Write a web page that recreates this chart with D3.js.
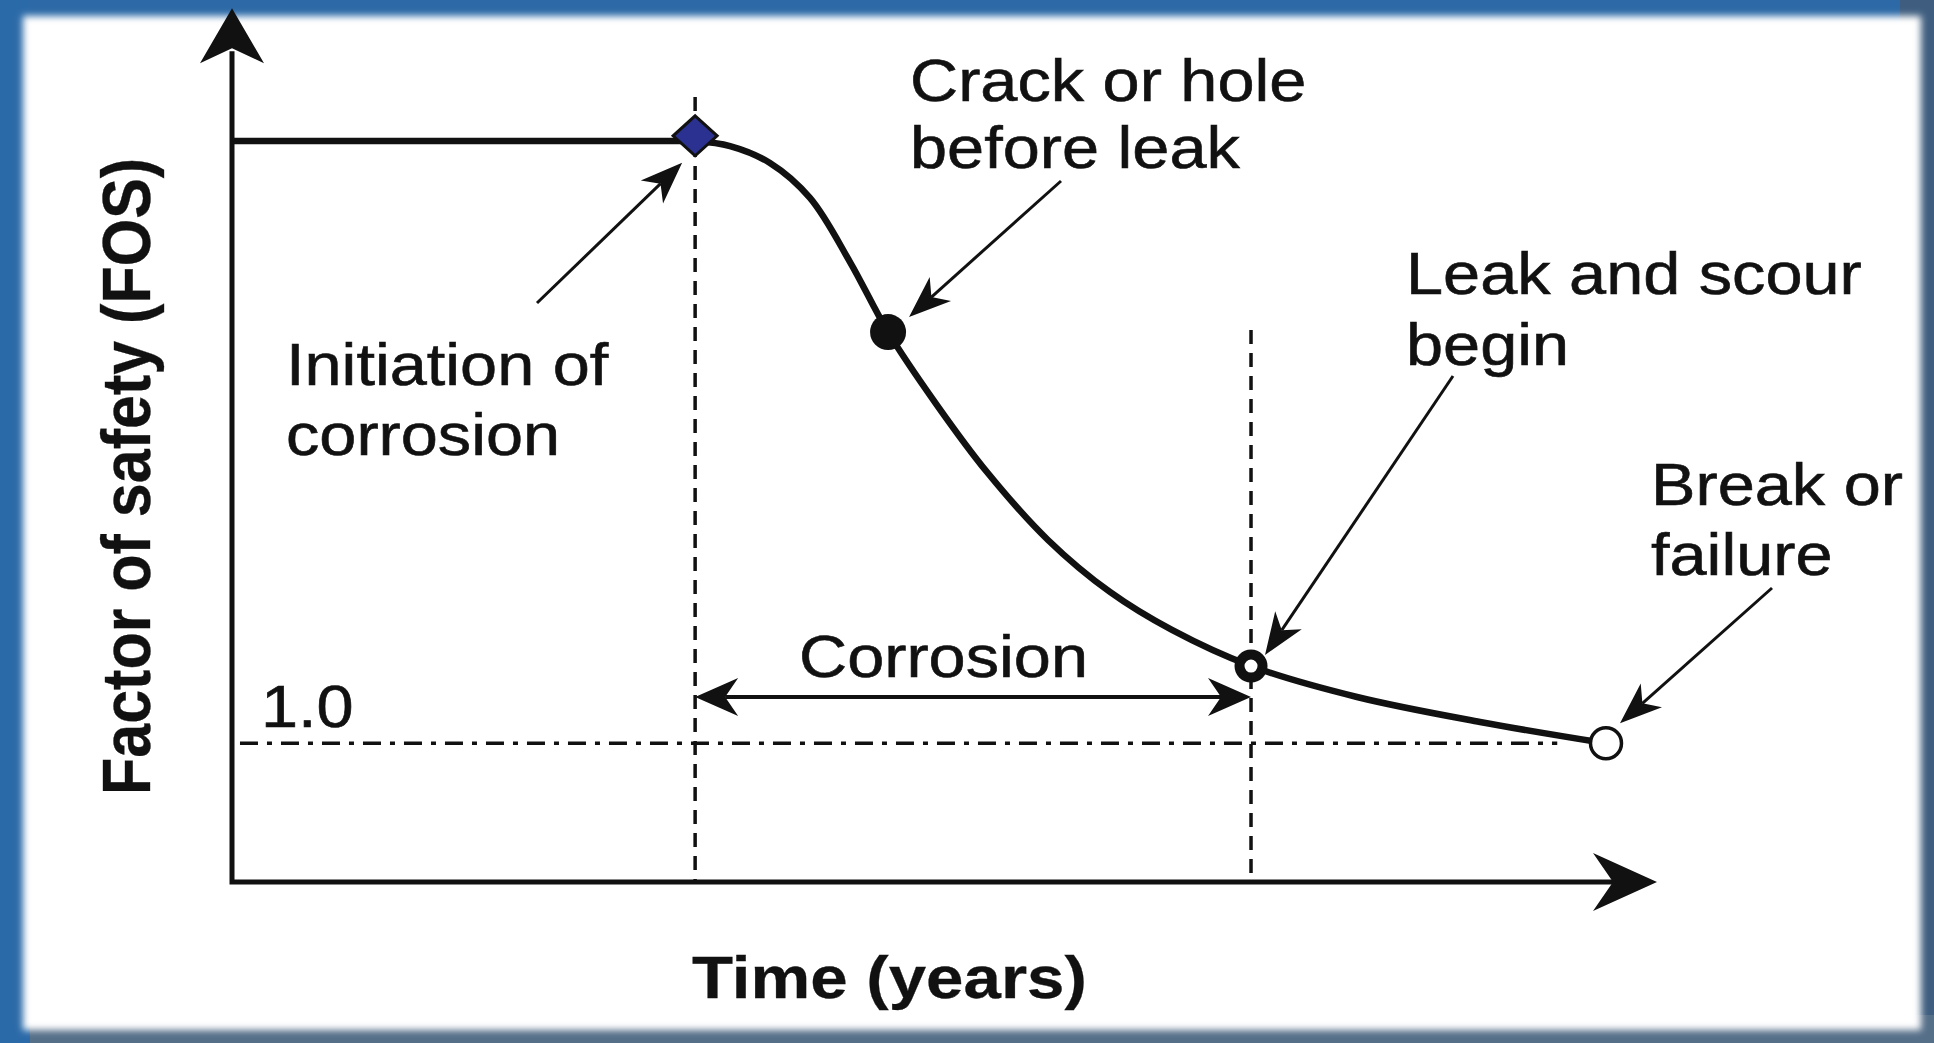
<!DOCTYPE html>
<html>
<head>
<meta charset="utf-8">
<script src="https://cdn.jsdelivr.net/npm/d3@7"></script>
<style>
  html, body { margin: 0; padding: 0; background: #fff; }
  svg { display: block; }
  text { font-family: "Liberation Sans", Arial, Helvetica, sans-serif; fill: #111; }
</style>
</head>
<body>
<svg id="chart" width="1934" height="1043"></svg>
<script>
// ---------------- DATA ----------------
const timeValues = [0, 3.25, 3.495, 3.775, 4.056, 4.337, 4.604, 4.947, 5.298, 5.726, 6.161, 6.596, 7.151, 7.895, 8.758, 9.642];
const fosValues  = [5.342, 5.342, 5.306, 5.184, 4.932, 4.470, 3.965, 3.439, 2.956, 2.466, 2.091, 1.817, 1.557, 1.334, 1.154, 1.00];

const eventNames = ["Initiation of corrosion", "Crack or hole before leak", "Leak and scour begin", "Break or failure"];
const eventTimes = [3.25, 4.604, 7.151, 9.642];
const eventFos   = [5.38, 3.965, 1.557, 1.00];

const eventLabels = [
  ["Initiation of", "corrosion"],
  ["Crack or hole", "before leak"],
  ["Leak and scour", "begin"],
  ["Break or", "failure"]
];
const yTickValues = [1.0];
const yTickLabels = ["1.0"];
const corrosionLabel = "Corrosion";
const xTitle = "Time (years)";
const yTitle = "Factor of safety (FOS)";

// ---------------- LAYOUT ----------------
const W = 1934, H = 1043;
const svg = d3.select("#chart");
const defs = svg.append("defs");

// frame
svg.append("rect").attr("x", 0).attr("y", 0).attr("width", W).attr("height", H).attr("fill", "#2c69a6");
svg.append("rect").attr("x", 1900).attr("y", 0).attr("width", 34).attr("height", H).attr("fill", "#3f5e7f");
svg.append("rect").attr("x", 0).attr("y", 1015).attr("width", W).attr("height", 28).attr("fill", "#566f89");
svg.append("rect").attr("x", 0).attr("y", 0).attr("width", 30).attr("height", H).attr("fill", "#2b6aa8");
const blur = defs.append("filter").attr("id", "soft").attr("x", "-5%").attr("y", "-5%").attr("width", "110%").attr("height", "110%");
blur.append("feGaussianBlur").attr("stdDeviation", 3.5);
svg.append("rect").attr("x", 23).attr("y", 16).attr("width", 1921 - 23).attr("height", 1030 - 16)
  .attr("fill", "#ffffff").attr("filter", "url(#soft)");

const x = d3.scaleLinear().domain([0, 10]).range([232, 1657]);
const y = d3.scaleLinear().domain([0, 6.3]).range([882, 8.2]);

const SX = 1.13; // horizontal stretch of the original artwork
function addText(px, py, str, size, weight, rot) {
  return svg.append("text")
    .attr("transform", `translate(${px},${py}) scale(${SX},1)` + (rot ? ` rotate(${rot})` : ""))
    .attr("font-size", size)
    .attr("font-weight", weight || "normal")
    .attr("stroke", "#111").attr("stroke-width", weight === "bold" ? 0.3 : 0.6)
    .text(str);
}

function arrowHead(tx, ty, ang, len, half, notch) {
  const c = Math.cos(ang), s = Math.sin(ang);
  const pt = (a, b) => [tx - a * c + b * s, ty - a * s - b * c];
  const p1 = pt(len, half), p2 = pt(notch, 0), p3 = pt(len, -half);
  return `M${tx},${ty}L${p1[0]},${p1[1]}L${p2[0]},${p2[1]}L${p3[0]},${p3[1]}Z`;
}
function arrow(x1, y1, x2, y2, width, len, half, notch) {
  const ang = Math.atan2(y2 - y1, x2 - x1);
  const ex = x2 - notch * Math.cos(ang), ey = y2 - notch * Math.sin(ang);
  svg.append("line").attr("x1", x1).attr("y1", y1).attr("x2", ex).attr("y2", ey)
    .attr("stroke", "#111").attr("stroke-width", width);
  svg.append("path").attr("d", arrowHead(x2, y2, ang, len, half, notch)).attr("fill", "#111");
}

// reference lines
svg.append("line")
  .attr("x1", x(0.056)).attr("x2", x(9.30)).attr("y1", y(yTickValues[0])).attr("y2", y(yTickValues[0]))
  .attr("stroke", "#111").attr("stroke-width", 3.5).attr("stroke-dasharray", "18,9,5,9");
svg.append("line")
  .attr("x1", x(eventTimes[0])).attr("x2", x(eventTimes[0])).attr("y1", y(5.66)).attr("y2", y(0))
  .attr("stroke", "#111").attr("stroke-width", 3.5).attr("stroke-dasharray", "14,9");
svg.append("line")
  .attr("x1", x(eventTimes[2])).attr("x2", x(eventTimes[2])).attr("y1", y(3.98)).attr("y2", y(0))
  .attr("stroke", "#111").attr("stroke-width", 3.5).attr("stroke-dasharray", "14,9");

// axes
svg.append("path").attr("d", `M${x(0)},${y(5.99)}L${x(0)},${y(0)}L${x(9.7)},${y(0)}`)
  .attr("fill", "none").attr("stroke", "#111").attr("stroke-width", 5).attr("stroke-linejoin", "miter");
svg.append("path").attr("d", arrowHead(x(0), y(6.3), -Math.PI / 2, 55, 32, 40)).attr("fill", "#111");
svg.append("path").attr("d", arrowHead(x(10), y(0), 0, 64, 29, 44)).attr("fill", "#111");

// curve: straight plateau, then smooth decline
const pts = timeValues.map((t, i) => [t, fosValues[i]]);
const flat = d3.line().x(d => x(d[0])).y(d => y(d[1]));
const smooth = d3.line().x(d => x(d[0])).y(d => y(d[1])).curve(d3.curveCatmullRom.alpha(0.5));
svg.append("path").attr("d", flat(pts.slice(0, 2))).attr("fill", "none")
  .attr("stroke", "#111").attr("stroke-width", 6.5).attr("stroke-linecap", "butt");
svg.append("path").attr("d", smooth(pts.slice(1))).attr("fill", "none")
  .attr("stroke", "#111").attr("stroke-width", 6.5).attr("stroke-linecap", "round");

// corrosion double arrow
const cy = y(1.334);
const cx1 = x(eventTimes[0]), cx2 = x(eventTimes[2]);
svg.append("line").attr("x1", cx1 + 30).attr("x2", cx2 - 30).attr("y1", cy).attr("y2", cy)
  .attr("stroke", "#111").attr("stroke-width", 4);
svg.append("path").attr("d", arrowHead(cx1, cy, Math.PI, 43, 19, 30)).attr("fill", "#111");
svg.append("path").attr("d", arrowHead(cx2, cy, 0, 43, 19, 30)).attr("fill", "#111");

// markers
const dx = x(eventTimes[0]), dy = y(eventFos[0]);
svg.append("path").attr("d", `M${dx},${dy - 20}L${dx + 22},${dy}L${dx},${dy + 20}L${dx - 22},${dy}Z`)
  .attr("fill", "#2b3191").attr("stroke", "#111").attr("stroke-width", 3);
svg.append("circle").attr("cx", x(eventTimes[1])).attr("cy", y(eventFos[1])).attr("r", 18).attr("fill", "#111");
svg.append("circle").attr("cx", x(eventTimes[2])).attr("cy", y(eventFos[2])).attr("r", 11.5)
  .attr("fill", "#fff").attr("stroke", "#111").attr("stroke-width", 10);
svg.append("circle").attr("cx", x(eventTimes[3])).attr("cy", y(eventFos[3])).attr("r", 15.5)
  .attr("fill", "#fff").attr("stroke", "#111").attr("stroke-width", 3.5);

// annotation arrows (tail -> marker)
const tails = [[537, 303], [1061, 181], [1453, 376], [1772, 588]];
const tipOffsets = [[-13, 27], [21, -15], [14, -11], [14, -20]];
eventTimes.forEach((t, i) => {
  const tx = x(t) + tipOffsets[i][0], ty = y(eventFos[i]) + tipOffsets[i][1];
  arrow(tails[i][0], tails[i][1], tx, ty, 3, 42, 16, 30);
});

// labels
const labelPos = [[286, 385], [910, 101], [1406, 294], [1651, 505]];
const lineGap = [70, 67, 71, 70];
eventLabels.forEach((lines, i) => {
  lines.forEach((s, j) => addText(labelPos[i][0], labelPos[i][1] + j * lineGap[i], s, 59));
});
addText(799, 677, corrosionLabel, 59);
yTickValues.forEach((v, i) => addText(261, y(v) - 16, yTickLabels[i], 59));
addText(692, 998, xTitle, 59.5, "bold");
addText(150, 795, yTitle, 61, "bold", -90);
</script>
</body>
</html>
